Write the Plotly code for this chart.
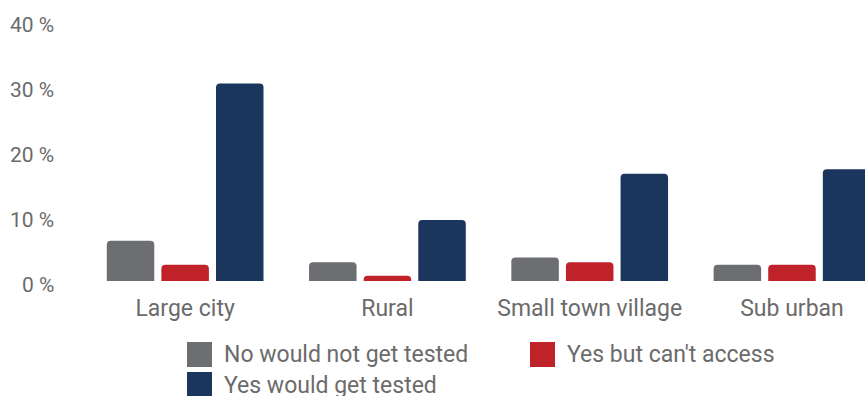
import plotly.graph_objects as go

# Share of respondents by area type
categories = ["Large city", "Rural", "Small town village", "Sub urban"]
no_would_not = [6.2, 2.9, 3.6, 2.5]
yes_cant_access = [2.5, 0.8, 2.9, 2.5]
yes_would = [30.4, 9.4, 16.5, 17.2]

series_names = ["No would not get tested", "Yes but can't access", "Yes would get tested"]
series_colors = ["#6d6e71", "#c0222a", "#1b365d"]
y_ticks = [0, 10, 20, 30, 40]
y_tick_labels = [f"{v} %" for v in y_ticks]

W, H = 865, 396
L, R, T, B = 84, 0, 21, 115
FONT = "Roboto, Open Sans, sans-serif"
TEXT = "#6b6b6b"

fig = go.Figure()
for name, vals, col in zip(series_names, [no_would_not, yes_cant_access, yes_would], series_colors):
    fig.add_trace(go.Bar(x=categories, y=vals, name=name, marker=dict(color=col, line=dict(width=0))))

fig.update_layout(
    width=W, height=H,
    margin=dict(l=L, r=R, t=T, b=B),
    paper_bgcolor="white", plot_bgcolor="white",
    barmode="group", bargap=0.19, bargroupgap=0.13, barcornerradius=4,
    showlegend=False,
    font=dict(family=FONT, size=22, color=TEXT),
)
fig.update_xaxes(range=[-0.5, 3.361], showline=False, showgrid=False, zeroline=False,
                 ticks="", tickfont=dict(size=23, color=TEXT), ticklabelstandoff=11)
fig.update_yaxes(range=[0, 40], tickvals=y_ticks, showticklabels=False, showline=False,
                 showgrid=False, zeroline=False, ticks="")

# Y tick labels, set a little below each gridline value
for v, lab in zip(y_ticks, y_tick_labels):
    fig.add_annotation(xref="paper", yref="y", x=0, y=v, text=lab, showarrow=False,
                       xanchor="right", yanchor="middle", xshift=-28, yshift=-4,
                       font=dict(family=FONT, size=21, color=TEXT))

# Legend drawn as swatches and labels below the plot
pw, ph = W - L - R, H - T - B
def px_x(p):
    return (p - L) / pw
def px_y(p):
    return (H - B - p) / ph

legend_items = [(187, 342), (530, 342), (187, 372)]
for (lx, ly), name, col in zip(legend_items, series_names, series_colors):
    fig.add_shape(type="rect", xref="paper", yref="paper",
                  x0=px_x(lx), x1=px_x(lx + 25), y0=px_y(ly), y1=px_y(ly + 25),
                  fillcolor=col, line=dict(width=0))
    fig.add_annotation(xref="paper", yref="paper", x=px_x(lx + 35), y=px_y(ly + 13),
                       text=name, showarrow=False, xanchor="left", yanchor="middle",
                       font=dict(family=FONT, size=23, color=TEXT))

fig.write_html("out.html")
